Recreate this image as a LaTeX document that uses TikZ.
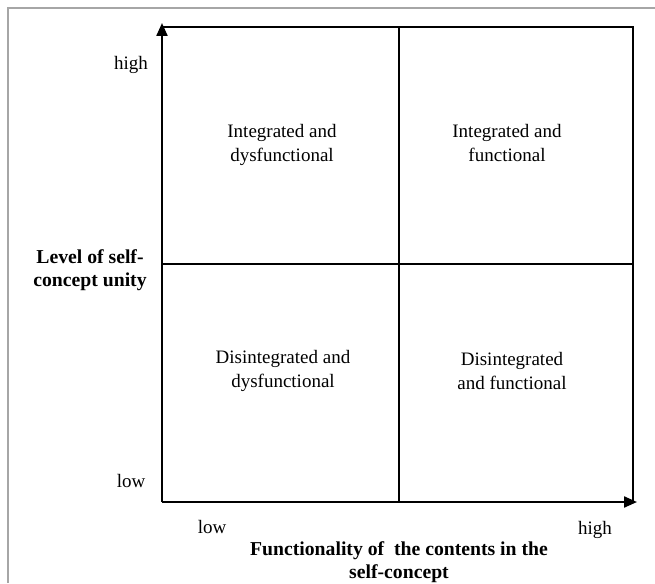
\documentclass[tikz,border=0pt]{standalone}
\usepackage{fontspec}
\setmainfont{Liberation Serif}
\usetikzlibrary{arrows.meta}
\begin{document}
\begin{tikzpicture}[x=1pt,y=-1pt,
  axisline/.style={line width=2.2pt,-{Triangle[length=13pt,width=11pt]}},
  gridline/.style={line width=1.2pt},
  lbl/.style={font=\fontsize{19}{24}\selectfont, align=center, inner sep=0pt},
  blbl/.style={font=\fontsize{19.7}{23.5}\selectfont\bfseries, align=center, inner sep=0pt}]
\useasboundingbox (0,0) rectangle (655,583);
\draw[gray!70, line width=1.5pt] (8,583) -- (8,8) -- (655,8);
\coordinate (O) at (162,502);
\coordinate (Ytop) at (162,23);
\coordinate (Xend) at (637,502);
\coordinate (TL) at (162,27);
\coordinate (TR) at (633,27);
\coordinate (BR) at (633,502);
\coordinate (TM) at (399,27);
\coordinate (BM) at (399,502);
\coordinate (ML) at (162,264);
\coordinate (MR) at (633,264);
\draw[gridline] (TL) -- (TR) -- (BR);
\draw[gridline] (TM) -- (BM);
\draw[gridline] (ML) -- (MR);
\draw[axisline] (O) -- (Ytop);
\draw[axisline] (O) -- (Xend);
\node[lbl] (q1) at (282,145) {Integrated and\\dysfunctional};
\node[lbl] (q2) at (507,143) {Integrated and\\functional};
\node[lbl] (q3) at (283,371) {Disintegrated and\\dysfunctional};
\node[lbl] (q4) at (512,371) {Disintegrated\\and functional};
\node[lbl] (yhigh) at (131,65) {high};
\node[lbl] (ylow) at (131,481) {low};
\node[lbl] (xlow) at (212,527) {low};
\node[lbl] (xhigh) at (595,530) {high};
\node[blbl] (ylab) at (90,270) {Level of self-\\concept unity};
\node[blbl] (xlab) at (399,562) {Functionality of\ \ the contents in the\\self-concept};
\end{tikzpicture}
\end{document}
